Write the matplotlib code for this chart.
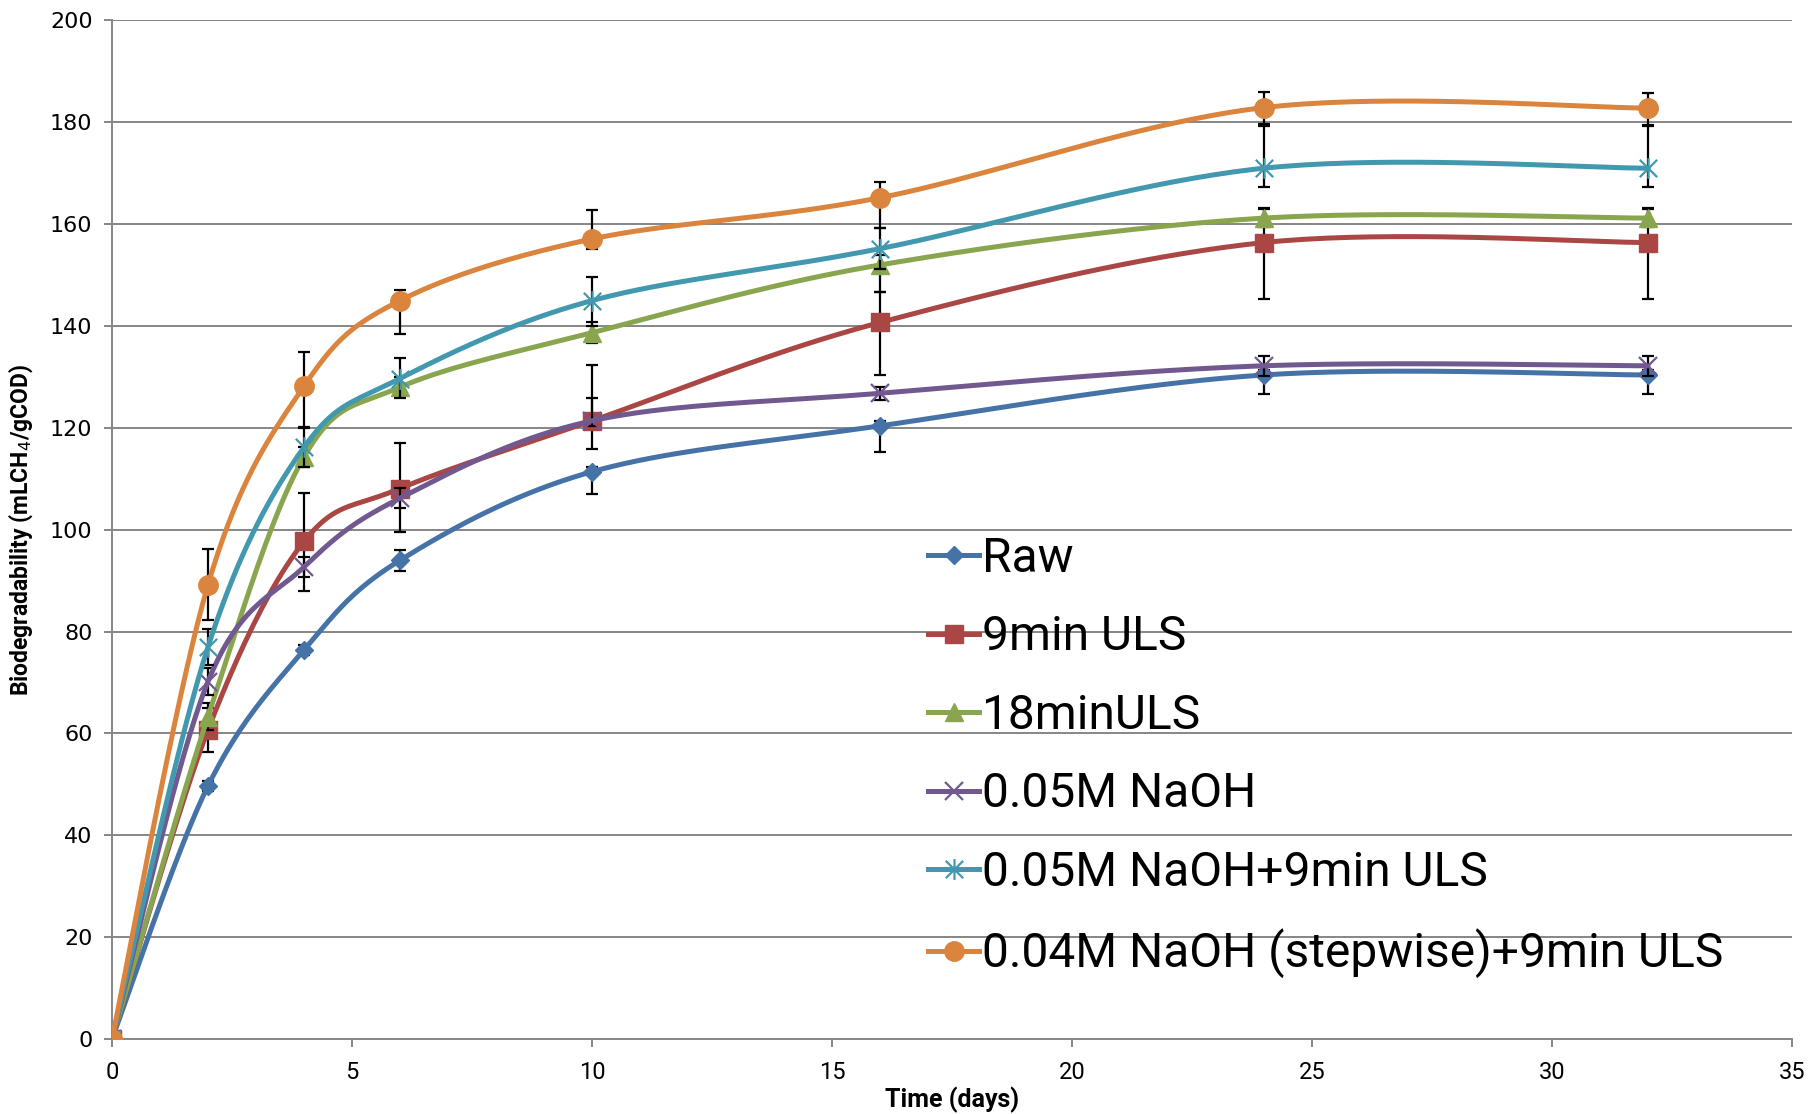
import numpy as np
import matplotlib
matplotlib.use("Agg")
import matplotlib.pyplot as plt
from matplotlib.path import Path

# sampling days
days = [0, 2, 4, 6, 10, 16, 24, 32]

labels = ["Raw", "9min ULS", "18minULS", "0.05M NaOH",
          "0.05M NaOH+9min ULS", "0.04M NaOH (stepwise)+9min ULS"]

raw = [0, 49.7, 76.4, 94.0, 111.4, 120.4, 130.4, 130.4]
raw_lo = [0, 1.0, 1.0, 2.0, 4.4, 5.1, 3.8, 3.8]
raw_hi = [0, 1.0, 1.0, 2.0, 1.0, 1.0, 1.0, 1.0]

uls9 = [0, 60.7, 97.7, 108.1, 121.4, 140.7, 156.4, 156.4]
uls9_lo = [0, 4.3, 9.8, 8.5, 5.5, 10.4, 11.0, 11.0]
uls9_hi = [0, 4.3, 9.6, 8.9, 11.0, 6.0, 6.7, 6.7]

uls18 = [0, 63.3, 114.3, 128.0, 138.7, 152.0, 161.2, 161.2]
uls18_lo = [0, 2.6, 2.0, 2.0, 2.0, 5.3, 1.8, 1.8]
uls18_hi = [0, 2.6, 2.0, 2.0, 2.0, 2.0, 1.8, 1.8]

naoh = [0, 70.2, 92.7, 106.2, 121.4, 126.8, 132.2, 132.2]
naoh_lo = [0, 2.6, 2.0, 2.0, 1.0, 1.3, 2.0, 2.0]
naoh_hi = [0, 2.6, 2.0, 2.0, 4.5, 1.3, 2.0, 2.0]

naoh_uls = [0, 77.0, 116.2, 129.7, 145.0, 155.2, 171.0, 171.0]
naoh_uls_lo = [0, 3.6, 3.8, 3.9, 4.9, 4.0, 3.6, 3.6]
naoh_uls_hi = [0, 3.6, 3.8, 4.0, 4.6, 4.0, 8.2, 8.2]

stepwise = [0, 89.2, 128.2, 145.0, 157.1, 165.2, 182.9, 182.8]
stepwise_lo = [0, 6.9, 8.0, 6.6, 2.0, 5.9, 3.3, 3.3]
stepwise_hi = [0, 7.0, 6.7, 2.0, 5.7, 3.0, 3.0, 3.0]

colors = ["#4572A7", "#AA4643", "#89A54E", "#71588F", "#4198AF", "#DB843D"]

# excel-like star: an x with a vertical bar
star = Path([(-0.5, -0.5), (0.5, 0.5), (-0.5, 0.5), (0.5, -0.5), (0, -0.6), (0, 0.6)],
            [Path.MOVETO, Path.LINETO, Path.MOVETO, Path.LINETO, Path.MOVETO, Path.LINETO])

styles = [
    dict(marker="D", ms=9.5),
    dict(marker="s", ms=12.5),
    dict(marker="^", ms=13),
    dict(marker="x", ms=13, mew=1.6),
    dict(marker=star, ms=15, mew=1.6),
    dict(marker="o", ms=14),
]

series = [(raw, raw_lo, raw_hi), (uls9, uls9_lo, uls9_hi), (uls18, uls18_lo, uls18_hi),
          (naoh, naoh_lo, naoh_hi), (naoh_uls, naoh_uls_lo, naoh_uls_hi),
          (stepwise, stepwise_lo, stepwise_hi)]


def smooth(x, y, n=40):
    # bezier smoothing through every point, control arms = (next - prev) / 6
    p = np.column_stack([x, y]).astype(float)
    ext = np.vstack([p[0], p, p[-1]])
    t = np.linspace(0, 1, n)[:, None]
    out = []
    for i in range(len(p) - 1):
        p0, p3 = p[i], p[i + 1]
        p1 = p0 + (ext[i + 2] - ext[i]) / 6
        p2 = p3 - (ext[i + 3] - ext[i + 1]) / 6
        seg = (1 - t) ** 3 * p0 + 3 * (1 - t) ** 2 * t * p1 + 3 * (1 - t) * t ** 2 * p2 + t ** 3 * p3
        out.append(seg if i == 0 else seg[1:])
    out = np.vstack(out)
    return out[:, 0], out[:, 1]


narrow = ["Roboto", "DejaVu Sans"]

fig = plt.figure(figsize=(18.12, 11.14), dpi=100)
ax = fig.add_axes([0.0618, 0.0673, 0.9272, 0.9143])

grey = "#868686"
for k, (vals, lo, hi) in enumerate(series):
    c = colors[k]
    ax.errorbar(days[1:], vals[1:], yerr=[lo[1:], hi[1:]], fmt="none", ecolor="black",
                elinewidth=1.6, capsize=4.5, capthick=1.6, zorder=3 + 2 * k)
    sx, sy = smooth(days, vals)
    ax.plot(sx, sy, color=c, lw=3.6, zorder=4 + 2 * k, solid_capstyle="round")
    ax.plot(days, vals, linestyle="none", color=c, mec=c, zorder=4 + 2 * k, **styles[k])
    # legend proxy
    ax.plot([], [], color=c, mec=c, lw=3.6, label=labels[k], **styles[k])

ax.set_xlim(0, 35)
ax.set_ylim(0, 200)
ax.set_xticks(np.arange(0, 36, 5))
ax.set_yticks(np.arange(0, 201, 20))
ax.yaxis.grid(True, color=grey, lw=1.4)
ax.set_axisbelow(True)
for s in ["top", "right"]:
    ax.spines[s].set_visible(False)
for s in ["left", "bottom"]:
    ax.spines[s].set_color(grey)
    ax.spines[s].set_linewidth(1.4)
ax.tick_params(axis="both", direction="out", color=grey, width=1.4, length=6)
ax.tick_params(axis="x", labelsize=17, pad=10)
ax.tick_params(axis="y", labelsize=16, pad=8)
for t in ax.get_xticklabels():
    t.set_family(narrow)
for t in ax.get_yticklabels():
    t.set_family("DejaVu Sans")

ax.set_xlabel("Time (days)", fontsize=18, fontweight="bold", family=narrow, labelpad=2)
ax.set_ylabel(r"Biodegradability (mLCH$_4$/gCOD)", fontsize=16.5, fontweight="bold",
              family=narrow, labelpad=11)

leg = ax.legend(loc="upper left", bbox_to_anchor=(0.4745, 0.513), frameon=False,
                prop=dict(family=narrow, size=34.5), handlelength=1.05, handletextpad=0.06,
                labelspacing=0.68, borderaxespad=0)

fig.savefig("out.png", dpi=100)
